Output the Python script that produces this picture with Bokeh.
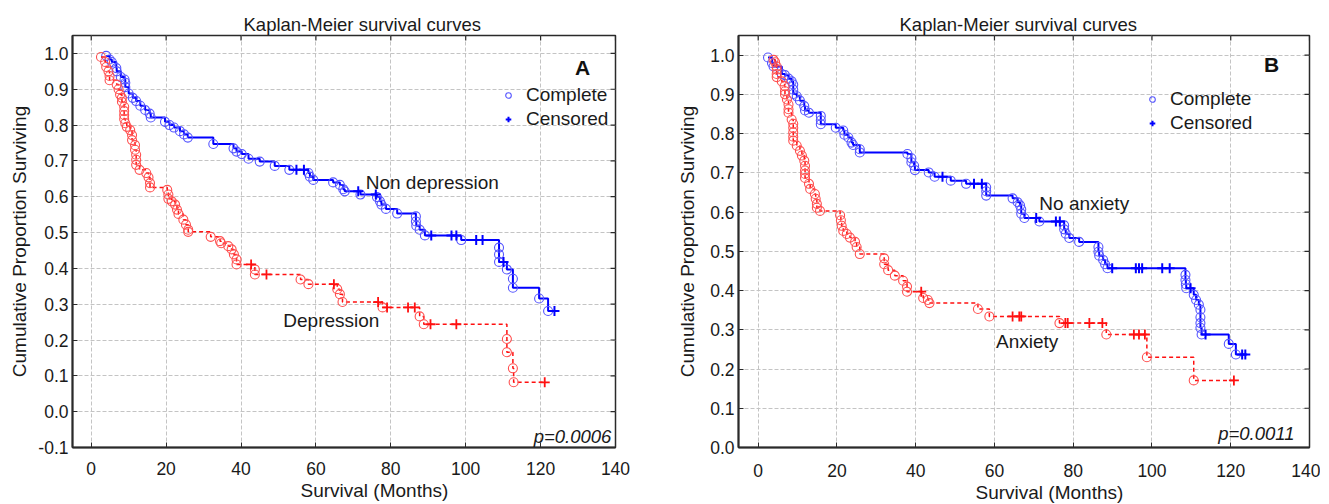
import math
from bokeh.plotting import figure
from bokeh.models import (FixedTicker, Legend, LegendItem, Label, Title,
                          NumeralTickFormatter, Range1d)
from bokeh.layouts import row
from bokeh.embed import file_html
from bokeh.resources import INLINE

FONT = "Liberation Sans"
TXT = "#1a1a1a"

X_TICKS = [0, 20, 40, 60, 80, 100, 120, 140]
A_Y_TICKS = [-0.1, 0.0, 0.1, 0.2, 0.3, 0.4, 0.5, 0.6, 0.7, 0.8, 0.9, 1.0]
B_Y_TICKS = [0.0, 0.1, 0.2, 0.3, 0.4, 0.5, 0.6, 0.7, 0.8, 0.9, 1.0]
X_LO, X_HI, Y_HI = -5, 140, 1.05

# ---------------- Panel A: depression ----------------
A_ND_t = [4.0, 4.9, 5.5, 6.7, 6.8, 7.9, 8.9, 9.1, 9.1, 10.0, 11.1, 12.0, 13.1, 14.4,
          15.6, 15.9, 19.7, 20.9, 22.1, 23.7, 24.8, 25.8, 32.6, 38.0, 38.8, 40.2,
          42.0, 45.0, 49.0, 52.9, 58.0, 58.4, 59.3, 64.6, 66.4, 67.3, 67.7, 71.9,
          76.3, 77.1, 77.5, 78.7, 81.7, 86.7, 86.7, 86.8, 87.7, 89.1, 98.8, 108.9,
          108.9, 108.9, 111.0, 112.6, 112.6, 119.6, 122.0]
A_ND_s = [0.993, 0.983, 0.976, 0.959, 0.950, 0.934, 0.927, 0.918, 0.906, 0.888, 0.876,
          0.867, 0.854, 0.842, 0.832, 0.821, 0.809, 0.800, 0.793, 0.783, 0.774, 0.765,
          0.747, 0.735, 0.726, 0.719, 0.706, 0.698, 0.686, 0.675, 0.666, 0.656, 0.647,
          0.640, 0.633, 0.621, 0.615, 0.606, 0.599, 0.587, 0.578, 0.566, 0.553, 0.545,
          0.531, 0.519, 0.508, 0.492, 0.479, 0.458, 0.439, 0.418, 0.397, 0.371, 0.346,
          0.316, 0.281]
A_ND_ct = [54.8, 56.8, 71.3, 76.0, 90.8, 96.2, 97.5, 102.8, 104.5, 110.1, 123.7]
A_ND_cs = [0.675, 0.675, 0.615, 0.606, 0.492, 0.492, 0.492, 0.479, 0.479, 0.418, 0.281]

A_D_t = [2.6, 3.7, 4.0, 4.6, 4.9, 4.9, 6.8, 7.3, 7.7, 8.2, 8.2, 8.8, 8.8, 8.8, 8.8,
         9.1, 9.5, 10.4, 10.9, 10.9, 11.7, 11.7, 12.0, 12.0, 12.0, 12.9, 14.7, 15.3,
         15.7, 15.7, 20.3, 20.6, 20.6, 21.5, 22.4, 22.9, 23.3, 24.6, 25.3, 25.9, 25.9,
         31.9, 34.4, 34.7, 36.6, 37.5, 38.1, 38.8, 38.8, 43.7, 43.7, 55.9, 58.0, 65.7,
         66.4, 67.1, 77.8, 87.7, 88.8, 111.0, 111.0, 112.6, 112.8]
A_D_s = [0.990, 0.976, 0.962, 0.950, 0.937, 0.925, 0.913, 0.900, 0.885, 0.876, 0.865,
         0.851, 0.839, 0.828, 0.817, 0.805, 0.795, 0.786, 0.772, 0.758, 0.744, 0.731,
         0.717, 0.703, 0.689, 0.675, 0.666, 0.654, 0.638, 0.626, 0.619, 0.606, 0.594,
         0.587, 0.578, 0.564, 0.552, 0.536, 0.522, 0.508, 0.502, 0.488, 0.476, 0.470,
         0.462, 0.453, 0.439, 0.425, 0.411, 0.397, 0.383, 0.369, 0.356, 0.342, 0.328,
         0.306, 0.291, 0.266, 0.244, 0.203, 0.166, 0.121, 0.082]
A_D_ct = [42.7, 46.8, 64.8, 76.6, 79.0, 84.6, 86.4, 90.6, 97.5, 121.1]
A_D_cs = [0.411, 0.383, 0.356, 0.306, 0.291, 0.291, 0.291, 0.244, 0.244, 0.082]

# ---------------- Panel B: anxiety ----------------
B_NA_t = [2.5, 3.5, 3.9, 6.0, 6.8, 7.7, 8.5, 8.9, 8.9, 8.9, 9.8, 10.6, 11.7, 11.9, 12.9,
          15.9, 15.9, 15.9, 19.7, 21.6, 21.9, 22.9, 23.7, 24.1, 25.8, 25.8, 37.9, 38.9,
          38.9, 39.6, 39.8, 43.3, 44.8, 48.9, 52.8, 57.9, 57.9, 57.9, 64.6, 65.9, 66.5,
          66.8, 66.8, 67.6, 71.4, 77.7, 77.7, 78.1, 79.0, 81.5, 86.4, 86.4, 86.6, 87.6,
          88.1, 88.7, 108.5, 108.5, 108.6, 108.7, 110.6, 111.2, 111.9, 112.3, 112.3,
          112.3, 112.3, 112.6, 119.5, 121.3]
B_NA_s = [0.994, 0.980, 0.971, 0.952, 0.949, 0.940, 0.933, 0.925, 0.912, 0.901, 0.895,
          0.884, 0.870, 0.859, 0.853, 0.845, 0.834, 0.824, 0.815, 0.808, 0.797, 0.790,
          0.777, 0.771, 0.760, 0.752, 0.748, 0.737, 0.727, 0.718, 0.707, 0.701, 0.690,
          0.680, 0.672, 0.663, 0.653, 0.642, 0.635, 0.625, 0.617, 0.607, 0.596, 0.585,
          0.576, 0.566, 0.556, 0.545, 0.534, 0.524, 0.511, 0.499, 0.489, 0.478, 0.467,
          0.457, 0.440, 0.427, 0.416, 0.406, 0.389, 0.376, 0.364, 0.351, 0.332, 0.317,
          0.305, 0.288, 0.264, 0.237]
B_NA_ct = [46.8, 54.8, 56.8, 70.6, 75.6, 76.6, 89.9, 95.9, 96.7, 97.5, 102.6, 104.5,
           109.8, 113.6, 122.9, 123.7]
B_NA_cs = [0.690, 0.672, 0.672, 0.585, 0.576, 0.576, 0.457, 0.457, 0.457, 0.457, 0.457,
           0.457, 0.406, 0.288, 0.237, 0.237]

B_A_t = [3.9, 4.3, 4.7, 4.7, 4.7, 4.7, 6.0, 6.7, 6.8, 6.8, 7.3, 7.7, 7.7, 7.7, 8.5, 8.9,
         8.9, 8.9, 8.9, 8.9, 9.8, 10.6, 11.1, 11.7, 11.9, 11.9, 11.9, 11.9, 12.9, 13.2,
         14.4, 14.6, 14.9, 14.9, 15.7, 20.8, 21.0, 21.2, 21.6, 22.5, 23.3, 24.6, 25.0,
         25.8, 32.0, 32.0, 33.0, 34.7, 36.8, 37.8, 37.8, 41.9, 43.1, 43.5, 55.8, 58.7,
         76.5, 88.4, 98.7, 110.6]
B_A_s = [0.988, 0.982, 0.971, 0.963, 0.952, 0.944, 0.933, 0.921, 0.908, 0.900, 0.887,
         0.874, 0.862, 0.853, 0.836, 0.825, 0.815, 0.803, 0.792, 0.782, 0.769, 0.756,
         0.744, 0.731, 0.718, 0.706, 0.697, 0.687, 0.672, 0.659, 0.646, 0.634, 0.621,
         0.611, 0.603, 0.592, 0.579, 0.565, 0.552, 0.544, 0.535, 0.524, 0.511, 0.493,
         0.482, 0.467, 0.452, 0.438, 0.425, 0.410, 0.397, 0.381, 0.376, 0.368, 0.353,
         0.334, 0.317, 0.288, 0.230, 0.171]
B_A_ct = [41.4, 64.6, 66.3, 66.8, 78.0, 78.6, 84.1, 87.4, 95.4, 96.7, 98.2, 120.8]
B_A_cs = [0.397, 0.334, 0.334, 0.334, 0.317, 0.317, 0.317, 0.317, 0.288, 0.288, 0.288,
          0.171]

BLUE_LINE = "#0000ff"
BLUE_CIRC = "#5555ff"
RED_LINE = "#ff1010"
RED_CIRC = "#ff5050"
EDGE = "#2a2a2a"


def km_path(ev_t, ev_s, c_t, c_s):
    pts = sorted(zip(list(ev_t) + list(c_t), list(ev_s) + list(c_s)),
                 key=lambda q: (q[0], -q[1]))
    return [q[0] for q in pts], [q[1] for q in pts]


def panel(width, height, borders, y_lo, y_ticks, groups, legend_loc, title_offset,
          letter, letter_xy, pval, pval_xy, ylab_standoff, xtick_standoff,
          xlab_offset):
    left, right, top, bottom = borders
    p = figure(width=width, height=height, output_backend="svg", toolbar_location=None,
               x_range=Range1d(X_LO, X_HI), y_range=Range1d(y_lo, Y_HI),
               min_border_left=left, min_border_right=right,
               min_border_top=top, min_border_bottom=bottom)
    p.background_fill_color = "white"
    p.border_fill_color = "white"
    p.outline_line_color = EDGE
    p.outline_line_width = 1.5

    p.title.text = "Kaplan-Meier survival curves"
    p.title.text_font = FONT
    p.title.text_font_size = "18.5px"
    p.title.text_font_style = "normal"
    p.title.text_color = TXT
    p.title.align = "left"
    p.title.offset = title_offset
    p.title.standoff = 2

    p.xaxis.ticker = FixedTicker(ticks=X_TICKS)
    p.yaxis.ticker = FixedTicker(ticks=y_ticks)
    p.yaxis.formatter = NumeralTickFormatter(format="0.0")
    for ax in (p.xaxis[0], p.yaxis[0]):
        ax.axis_line_color = EDGE
        ax.axis_line_width = 2
        ax.major_tick_line_color = EDGE
        ax.minor_tick_line_color = None
        ax.major_tick_in = 5
        ax.major_tick_out = 0
        ax.major_label_text_font = FONT
        ax.major_label_text_font_size = "17.5px"
        ax.major_label_text_color = TXT
        ax.axis_label_text_font = FONT
        ax.axis_label_text_font_size = "19px"
        ax.axis_label_text_font_style = "normal"
        ax.axis_label_text_color = TXT
    p.xaxis.major_label_standoff = xtick_standoff
    p.yaxis.major_label_standoff = 4
    p.yaxis.axis_label = "Cumulative Proportion Surviving"
    p.yaxis.axis_label_standoff = ylab_standoff

    # x-axis title, below the tick labels and right of centre as in the source
    p.add_layout(Title(text="Survival (Months)", text_font=FONT, text_font_size="19px",
                       text_font_style="normal", text_color=TXT, align="left",
                       offset=xlab_offset, standoff=0), "below")

    p.xgrid.ticker = FixedTicker(ticks=X_TICKS)
    p.ygrid.ticker = FixedTicker(ticks=y_ticks)
    for g in (p.xgrid[0], p.ygrid[0]):
        g.grid_line_color = "#c4c4c4"
        g.grid_line_dash = "4 2"
        g.grid_line_width = 1

    # inward tick marks on the top and right frame edges (outer half clipped)
    p.scatter(X_TICKS, [Y_HI] * len(X_TICKS), marker="dash", angle=math.pi / 2,
              size=10, line_color=EDGE, line_width=1.2)
    p.scatter([X_HI] * len(y_ticks), y_ticks, marker="dash", size=10,
              line_color=EDGE, line_width=1.2)

    rend = {}
    for (ev_t, ev_s, c_t, c_s, kind, name, name_xy) in groups:
        lx, ly = km_path(ev_t, ev_s, c_t, c_s)
        if kind == "blue":
            p.step(lx, ly, mode="after", line_color=BLUE_LINE, line_width=2)
            rc = p.scatter(ev_t, ev_s, marker="circle", size=9, fill_color=None,
                           line_color=BLUE_CIRC, line_width=1.1)
            rx = p.scatter(c_t, c_s, marker="cross", size=10, line_color=BLUE_LINE,
                           line_width=2)
            rend["circ"] = rc
            rend["cross"] = rx
        else:
            p.step(lx, ly, mode="after", line_color=RED_LINE, line_width=1.5,
                   line_dash="4 3")
            p.scatter(ev_t, ev_s, marker="circle", size=9, fill_color=None,
                      line_color=RED_CIRC, line_width=1.1)
            p.scatter(c_t, c_s, marker="cross", size=10, line_color=RED_LINE,
                      line_width=1.8)
        p.add_layout(Label(x=name_xy[0], y=name_xy[1], text=name, text_font=FONT,
                           text_font_size="19px", text_color=TXT,
                           text_baseline="middle", text_align="left"))

    leg = Legend(items=[LegendItem(label="Complete", renderers=[rend["circ"]]),
                        LegendItem(label="Censored", renderers=[rend["cross"]])],
                 location=legend_loc, border_line_color=None,
                 background_fill_alpha=0, label_text_font=FONT,
                 label_text_font_size="19px", label_text_color=TXT,
                 glyph_width=14, glyph_height=20, spacing=2, padding=0, margin=0,
                 label_standoff=11, label_height=20)
    p.add_layout(leg, "center")

    p.add_layout(Label(x=letter_xy[0], y=letter_xy[1], text=letter, text_font=FONT,
                       text_font_size="21px", text_font_style="bold", text_color="#111",
                       text_align="center", text_baseline="middle"))
    p.add_layout(Label(x=pval_xy[0], y=pval_xy[1], text=pval, text_font=FONT,
                       text_font_size="18.5px", text_font_style="italic", text_color=TXT,
                       text_align="right", text_baseline="middle"))
    return p


pA = panel(660, 504, (72, 45, 35, 55), -0.1, A_Y_TICKS,
           [(A_ND_t, A_ND_s, A_ND_ct, A_ND_cs, "blue", "Non depression", (73.3, 0.64)),
            (A_D_t, A_D_s, A_D_ct, A_D_cs, "red", "Depression", (51.3, 0.254))],
           (429, 317), 171, "A", (131.2, 0.961), "p=0.0006", (138.9, -0.069), 5, 14,
           228)

pB = panel(660, 504, (78, 11, 32, 57), 0.0, B_Y_TICKS,
           [(B_NA_t, B_NA_s, B_NA_ct, B_NA_cs, "blue", "No anxiety", (71.4, 0.621)),
            (B_A_t, B_A_s, B_A_ct, B_A_cs, "red", "Anxiety", (60.4, 0.271))],
           (407, 313), 161, "B", (130.4, 0.975), "p=0.0011", (136.2, 0.036), 9, 16,
           237)

layout = row(pA, pB)
open("out.html", "w").write(file_html(layout, INLINE))
